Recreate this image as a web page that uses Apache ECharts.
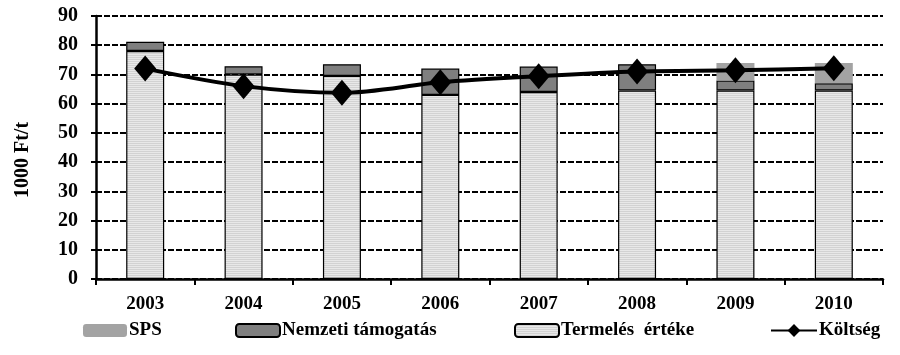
<!DOCTYPE html>
<html><head><meta charset="utf-8">
<script src="https://cdn.jsdelivr.net/npm/echarts@6/dist/echarts.min.js"></script>
<style>html,body{margin:0;padding:0;background:#fff}#c{width:900px;height:355px}</style>
</head><body><div id="c"></div>
<script>
const categories = ['2003','2004','2005','2006','2007','2008','2009','2010'];
const termeles = [78, 70, 69.5, 63, 64, 64.5, 64.5, 64.5];
const nemzeti  = [3.2, 2.8, 4, 9, 8.7, 9, 3.4, 2.5];
const sps      = [0, 0, 0, 0, 0, 0, 6, 6.9];
const koltseg  = [72, 66, 63.7, 67.3, 69.4, 71, 71.4, 72.1];
const yTicks = [0,10,20,30,40,50,60,70,80,90];

const pc = document.createElement('canvas'); pc.width = 4; pc.height = 2;
const g = pc.getContext('2d');
g.fillStyle = '#e8e8e8'; g.fillRect(0,0,4,2);
g.fillStyle = '#d2d2d2'; g.fillRect(0,1,4,1);
const pattern = {image: pc, repeat: 'repeat'};

const font = '"Liberation Serif", "Times New Roman", serif';
const legTxt = {fontFamily: font, fontWeight: 'bold', fontSize: 19, color: '#000', padding: [0,0,0,-3]};
function leg(name, left, extra) {
  return Object.assign({left: left, top: 316, itemWidth: 44, itemHeight: 13,
    textStyle: legTxt, data: [name]}, extra || {});
}
const chart = echarts.init(document.getElementById('c'));
chart.setOption({
  animation: false,
  backgroundColor: '#fff',
  textStyle: {fontFamily: font, fontWeight: 'bold', color: '#000'},
  grid: {left: 96, right: 17, top: 16, bottom: 76},
  legend: [
    leg('SPS', 78),
    leg('Nemzeti támogatás', 230),
    leg('Termelés  értéke', 509),
    leg('Költség', 765, {itemWidth: 46, itemHeight: 16})
  ],
  graphic: [{
    type: 'text', x: 23, y: 160, rotation: Math.PI / 2,
    style: {text: '1000 Ft/t', font: 'bold 20px ' + font, fill: '#000',
      textAlign: 'center', textVerticalAlign: 'middle'}
  }],
  xAxis: {
    type: 'category', data: categories,
    axisLine: {lineStyle: {color: '#000', width: 2.5}},
    axisTick: {show: true, length: 6, lineStyle: {color: '#000', width: 2}},
    axisLabel: {fontFamily: font, fontWeight: 'bold', fontSize: 19, color: '#000', margin: 16}
  },
  yAxis: {
    type: 'value', min: 0, max: 90, interval: 10,
    axisLine: {show: true, lineStyle: {color: '#000', width: 2.5}},
    axisTick: {show: true, length: 5, lineStyle: {color: '#000', width: 2}},
    axisLabel: {fontFamily: font, fontWeight: 'bold', fontSize: 20, color: '#000', margin: 18,
      formatter: v => yTicks.includes(v) ? String(v) : ''},
    splitLine: {show: true, lineStyle: {color: '#000', width: 2, type: [6, 2]}}
  },
  series: [
    {name: 'Termelés  értéke', type: 'bar', stack: 's', barWidth: 38, data: termeles,
     itemStyle: {color: pattern, borderColor: '#000', borderWidth: 1.2}},
    {name: 'Nemzeti támogatás', type: 'bar', stack: 's', data: nemzeti,
     itemStyle: {color: '#7f7f7f', borderColor: '#000', borderWidth: 1.2}},
    {name: 'SPS', type: 'bar', stack: 's', data: sps,
     itemStyle: {color: '#a3a3a3', borderColor: '#a3a3a3', borderWidth: 0}},
    {name: 'Költség', type: 'line', data: koltseg, smooth: 0.3,
     symbol: 'diamond', symbolSize: [22, 26],
     lineStyle: {color: '#000', width: 4}, itemStyle: {color: '#000'}, z: 5}
  ]
});
</script></body></html>
